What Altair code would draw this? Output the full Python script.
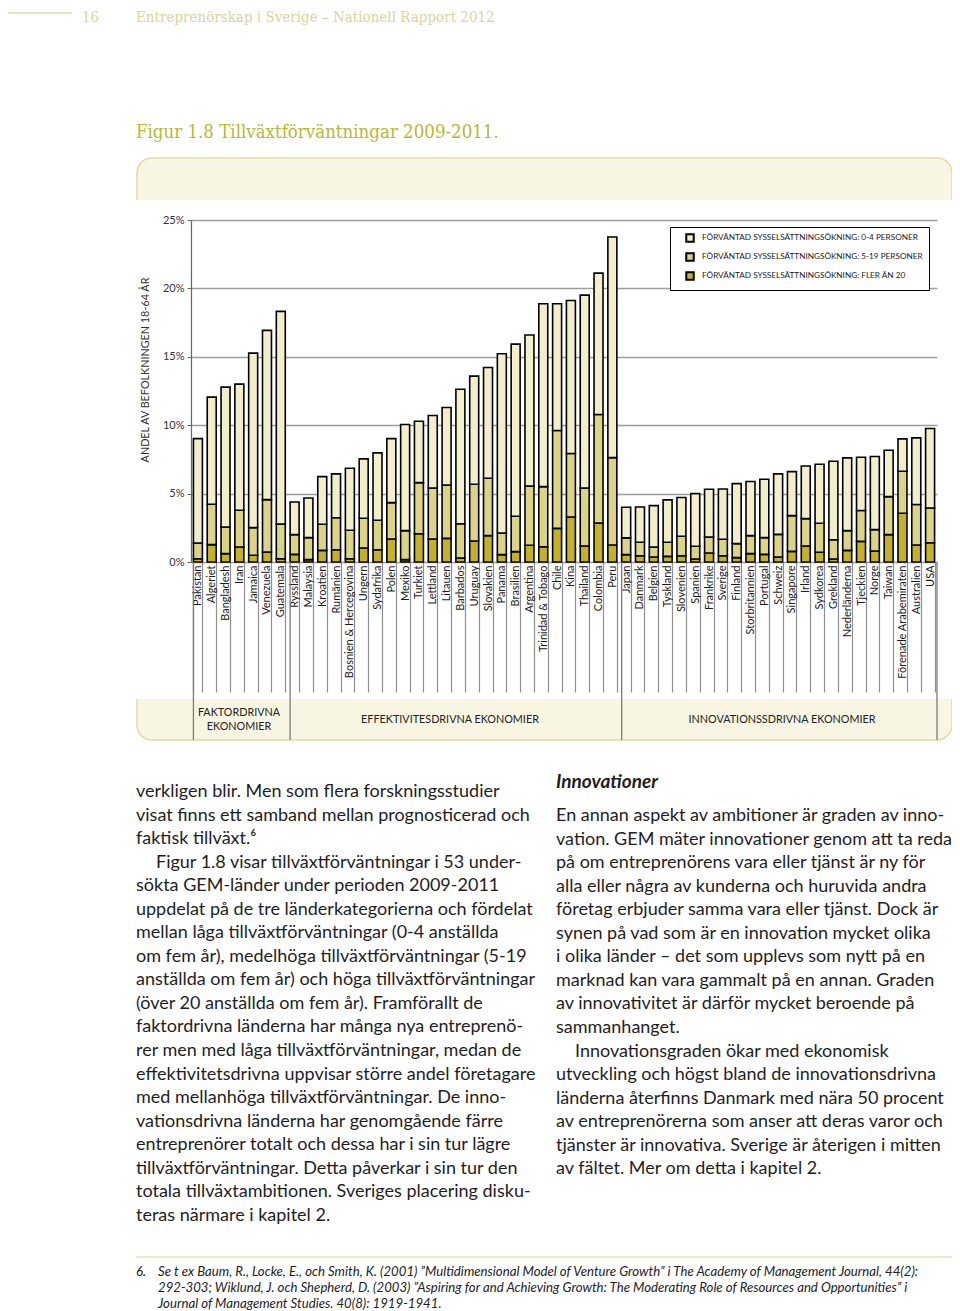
import altair as alt
import pandas as pd

# ---------------- data ----------------
countries = [
    "Pakistan", "Algeriet", "Bangladesh", "Iran", "Jamaica", "Venezuela", "Guatemala",
    "Ryssland", "Malaysia", "Kroatien", "Rumänien", "Bosnien & Hercegovina", "Ungern",
    "Sydafrika", "Polen", "Mexiko", "Turkiet", "Lettland", "Litauen", "Barbados", "Uruguay",
    "Slovakien", "Panama", "Brasilien", "Argentina", "Trinidad & Tobago", "Chile", "Kina",
    "Thailand", "Colombia", "Peru",
    "Japan", "Danmark", "Belgien", "Tyskland", "Slovenien", "Spanien", "Frankrike", "Sverige",
    "Finland", "Storbritannien", "Portugal", "Schweiz", "Singapore", "Irland", "Sydkorea",
    "Grekland", "Nederländerna", "Tjeckien", "Norge", "Taiwan", "Förenade Arabemiraten",
    "Australien", "USA",
]
group_first = ["Pakistan", "Ryssland", "Japan"]

# share of population 18-64 (%), per growth-expectation class
share_over20 = [0.24, 1.27, 0.61, 1.10, 0.49, 0.73, 0.24,
                0.56, 0.17, 0.85, 0.90, 0.24, 1.02, 0.90, 1.68, 0.17, 2.07, 1.68, 1.73, 0.29,
                1.54, 1.93, 0.54, 0.76, 1.22, 1.12, 2.46, 3.29, 1.17, 2.85, 1.24,
                0.54, 0.46, 0.37, 0.41, 0.46, 0.22, 0.66, 0.46, 0.32, 0.61, 0.56, 0.37, 0.78,
                1.17, 0.71, 0.22, 0.85, 1.51, 0.80, 2.00, 3.56, 1.24, 1.41]
share_5_19 = [1.15, 2.95, 1.95, 2.68, 2.02, 3.83, 2.54,
              1.44, 1.61, 1.91, 2.34, 2.08, 2.18, 2.15, 2.66, 2.12, 3.73, 3.73, 3.90, 2.51,
              4.14, 4.19, 1.58, 2.58, 4.34, 4.39, 7.15, 4.64, 4.24, 7.93, 6.39,
              1.22, 0.98, 0.73, 1.03, 1.42, 0.93, 1.17, 1.20, 1.02, 1.32, 1.22, 1.65, 2.61,
              2.00, 2.12, 1.41, 1.44, 2.25, 1.57, 2.78, 3.07, 2.96, 2.54]
share_0_4 = [7.63, 7.83, 10.22, 9.22, 12.76, 12.37, 15.54,
             2.39, 2.90, 3.48, 3.20, 4.53, 4.34, 4.93, 4.68, 7.76, 4.49, 5.30, 5.66, 9.83,
             7.91, 8.10, 13.10, 12.59, 11.03, 13.37, 9.27, 11.19, 14.10, 10.34, 16.13,
             2.24, 2.58, 3.02, 3.10, 2.83, 3.85, 3.49, 3.68, 4.39, 3.95, 4.27, 4.42, 3.22,
             3.85, 4.32, 5.74, 5.32, 3.90, 5.34, 3.39, 2.37, 4.87, 5.81]

series_labels = ["FÖRVÄNTAD SYSSELSÄTTNINGSÖKNING: 0-4 PERSONER",
                 "FÖRVÄNTAD SYSSELSÄTTNINGSÖKNING: 5-19 PERSONER",
                 "FÖRVÄNTAD SYSSELSÄTTNINGSÖKNING: FLER ÄN 20"]
series_colors = ["#f2eecb", "#ddd386", "#c3b128"]
y_ticks = [0, 5, 10, 15, 20, 25]

group_labels = ["FAKTORDRIVNA\nEKONOMIER", "EFFEKTIVITESDRIVNA EKONOMIER", "INNOVATIONSSDRIVNA EKONOMIER"]
y_title = "ANDEL AV BEFOLKNINGEN  18-64 ÅR"
page_no = "16"
running_head = "Entreprenörskap i Sverige – Nationell Rapport 2012"
fig_title = "Figur 1.8 Tillväxtförväntningar 2009-2011."

left_p1 = ["verkligen blir. Men som flera forskningsstudier",
           "visat finns ett samband mellan prognosticerad och",
           "faktisk tillväxt.⁶"]
left_p2 = ["Figur 1.8 visar tillväxtförväntningar i 53 under-",
           "sökta GEM-länder under perioden 2009-2011",
           "uppdelat på de tre länderkategorierna och fördelat",
           "mellan låga tillväxtförväntningar (0-4 anställda",
           "om fem år), medelhöga tillväxtförväntningar (5-19",
           "anställda om fem år) och höga tillväxtförväntningar",
           "(över 20 anställda om fem år). Framförallt de",
           "faktordrivna länderna har många nya entreprenö-",
           "rer men med låga tillväxtförväntningar, medan de",
           "effektivitetsdrivna uppvisar större andel företagare",
           "med mellanhöga tillväxtförväntningar. De inno-",
           "vationsdrivna länderna har genomgående färre",
           "entreprenörer totalt och dessa har i sin tur lägre",
           "tillväxtförväntningar. Detta påverkar i sin tur den",
           "totala tillväxtambitionen. Sveriges placering disku-",
           "teras närmare i kapitel 2."]
right_head = "Innovationer"
right_p1 = ["En annan aspekt av ambitioner är graden av inno-",
            "vation. GEM mäter innovationer genom att ta reda",
            "på om entreprenörens vara eller tjänst är ny för",
            "alla eller några av kunderna och huruvida andra",
            "företag erbjuder samma vara eller tjänst. Dock är",
            "synen på vad som är en innovation mycket olika",
            "i olika länder – det som upplevs som nytt på en",
            "marknad kan vara gammalt på en annan. Graden",
            "av innovativitet är därför mycket beroende på",
            "sammanhanget."]
right_p2 = ["Innovationsgraden ökar med ekonomisk",
            "utveckling och högst bland de innovationsdrivna",
            "länderna återfinns Danmark med nära 50 procent",
            "av entreprenörerna som anser att deras varor och",
            "tjänster är innovativa. Sverige är återigen i mitten",
            "av fältet. Mer om detta i kapitel 2."]
foot_no = "6."
foot_lines = ["Se t ex Baum, R., Locke, E., och Smith, K. (2001) ”Multidimensional Model of Venture Growth” i The Academy of Management Journal, 44(2):",
              "292-303; Wiklund, J. och Shepherd, D. (2003) ”Aspiring for and Achieving Growth: The Moderating Role of Resources and Opportunities” i",
              "Journal of Management Studies. 40(8): 1919-1941."]

assert len(countries) == len(share_over20) == len(share_5_19) == len(share_0_4)

rows = []
for i, c in enumerate(countries):
    rows.append({"country": c, "series": series_labels[2], "value": share_over20[i], "ord": 0})
    rows.append({"country": c, "series": series_labels[1], "value": share_5_19[i], "ord": 1})
    rows.append({"country": c, "series": series_labels[0], "value": share_0_4[i], "ord": 2})
df = pd.DataFrame(rows)

# ---------------- layout (page pixels) ----------------
OX, OY = 191, 220          # plot origin on the page
W, H = 746, 342            # plot area
TOTAL_W, TOTAL_H = 944, 1303
SANS = "Lato"
SERIF = "'DejaVu Serif Condensed', 'DejaVu Serif', serif"
one = pd.DataFrame({"k": [0]})


def px(v):
    return v - OX


def py(v):
    return v - OY


def text(s, x, y, **kw):
    return alt.Chart(one).mark_text(**kw).encode(
        x=alt.value(px(x)), y=alt.value(py(y)), text=alt.value(s))


def rect(x1, y1, x2, y2, **kw):
    return alt.Chart(one).mark_rect(**kw).encode(
        x=alt.value(px(x1)), x2=alt.value(px(x2)), y=alt.value(py(y1)), y2=alt.value(py(y2)))


def rule(x1, y1, x2, y2, **kw):
    return alt.Chart(one).mark_rule(**kw).encode(
        x=alt.value(px(x1)), x2=alt.value(px(x2)), y=alt.value(py(y1)), y2=alt.value(py(y2)))


CREAM = "#f8f6e3"
EDGE = "#e0dca2"

frame = [
    rect(137, 158, 952, 212, fill=CREAM, stroke=EDGE, strokeWidth=1.5,
         cornerRadiusTopLeft=15, cornerRadiusTopRight=15),
    rect(130, 200, 960, 214, fill="white"),
    rect(137, 694, 952, 740, fill=CREAM, stroke=EDGE, strokeWidth=1.5,
         cornerRadiusBottomLeft=15, cornerRadiusBottomRight=15),
    rect(130, 693, 960, 699, fill="white"),
]

xsc = alt.Scale(paddingInner=0.35, paddingOuter=0.175)

bars = alt.Chart(df).mark_bar(stroke="black", strokeWidth=1.6).encode(
    x=alt.X("country:N", sort=countries, scale=xsc, title=None,
            axis=alt.Axis(labelAngle=270, labelAlign="right", labelBaseline="middle",
                          labelPadding=-127, tickBand="extent", tickSize=130,
                          tickColor="#8f8f8f", tickWidth=1.2, domain=False,
                          labelFont=SANS, labelFontSize=11, labelColor="#1a1a1a",
                          labelLimit=300)),
    y=alt.Y("value:Q", stack="zero", title=None,
            scale=alt.Scale(domain=[0, 25], nice=False),
            axis=alt.Axis(values=y_ticks, labelExpr="datum.value + '%'", grid=True,
                          gridColor="#9d9d9d", gridWidth=1.4, tickSize=4, tickColor="#666",
                          domainColor="#666", domainWidth=1.2, labelFont=SANS,
                          labelFontSize=11, labelColor="#333", labelPadding=3)),
    color=alt.Color("series:N",
                    scale=alt.Scale(domain=series_labels, range=series_colors),
                    legend=alt.Legend(title=None, orient="none", legendX=479, legendY=7,
                                      direction="vertical", fillColor="white",
                                      strokeColor="black", padding=6, rowPadding=3,
                                      symbolType="square", symbolSize=56,
                                      symbolStrokeColor="black", symbolStrokeWidth=2,
                                      symbolOffset=9, labelOffset=7,
                                      labelFont=SANS, labelFontSize=8.2,
                                      labelColor="#222", labelLimit=400)),
    order=alt.Order("ord:Q"),
)

sep = alt.Chart(pd.DataFrame({"country": group_first})).mark_rule(
    color="#7a7a7a", strokeWidth=1.3).encode(
    x=alt.X("country:N", sort=countries, bandPosition=0),
    y=alt.value(py(562)), y2=alt.value(py(740)))
right_edge = rule(937, 562, 937, 740, color="#7a7a7a", strokeWidth=1.3)

labels = [
    text(y_title, 146, 370, angle=270, font=SANS, fontSize=10.8, color="#333",
         align="center", baseline="middle"),
    text(group_labels[0], 239, 713, font=SANS, fontSize=10.8, color="#222",
         align="center", baseline="middle", lineBreak="\n", lineHeight=14),
    text(group_labels[1], 450, 720, font=SANS, fontSize=10.8, color="#222",
         align="center", baseline="middle"),
    text(group_labels[2], 782, 720, font=SANS, fontSize=10.8, color="#222",
         align="center", baseline="middle"),
]

header = [
    rule(8, 13, 72, 13, color="#dcdcaa", strokeWidth=1.3),
    text(page_no, 82, 17, font=SERIF, fontSize=15, color="#d6d6a0", align="left",
         baseline="middle"),
    text(running_head, 136, 17, font=SERIF, fontSize=15, color="#d6d6a0", align="left",
         baseline="middle"),
    text(fig_title, 136, 132, font=SERIF, fontSize=18.5, color="#b6b832", align="left",
         baseline="middle"),
]

LH = 23.55
BODY = dict(font=SANS, fontSize=18, color="#1e1e1e", align="left", baseline="middle",
            lineBreak="\n", lineHeight=LH)


def block(lines, x, y_first, **kw):
    # multi-line text: the first line sits at y_first
    opts = dict(BODY)
    opts.update(kw)
    return text("\n".join(lines), x, y_first, **opts)


body = [
    block(left_p1, 136, 792),
    block(left_p2[:1], 156, 792 + 3 * LH),
    block(left_p2[1:], 136, 792 + 4 * LH),
    text(right_head, 556, 782, font=SANS, fontSize=19, fontWeight="bold",
         fontStyle="italic", color="#1e1e1e", align="left", baseline="middle"),
    block(right_p1, 556, 816),
    block(right_p2[:1], 575, 816 + 10 * LH),
    block(right_p2[1:], 556, 816 + 11 * LH),
]

foot = [
    rule(136, 1257, 952, 1257, color="#e4e4b6", strokeWidth=1.5),
    text(foot_no, 136, 1272, font=SANS, fontSize=13.2, fontStyle="italic", color="#222",
         align="left", baseline="middle"),
    text("\n".join(foot_lines), 158, 1272, font=SANS, fontSize=13.2, fontStyle="italic",
         color="#222", align="left", baseline="middle", lineBreak="\n", lineHeight=16),
]

chart = alt.layer(
    *frame, bars, sep, right_edge, *labels, *header, *body, *foot
).properties(
    width=W, height=H,
    autosize=alt.AutoSizeParams(type="none"),
    padding={"left": OX - 8, "top": OY - 8, "right": TOTAL_W - (OX - 8) - W,
             "bottom": TOTAL_H - (OY - 8) - H},
    background="white",
).configure_view(stroke=None)

chart.save("out.html", embed_options={"renderer": "svg", "actions": False})
